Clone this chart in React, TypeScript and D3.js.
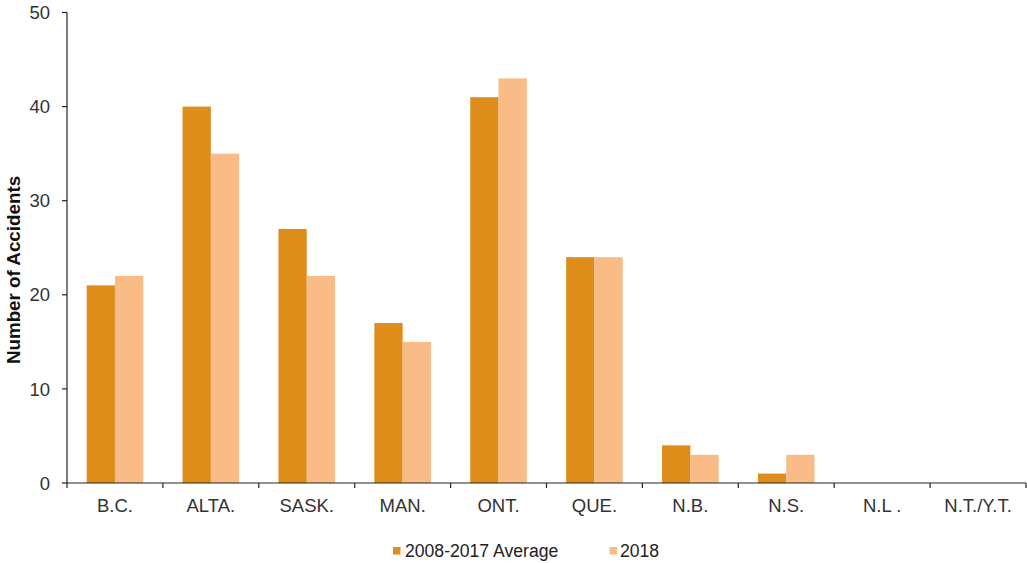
import React from "react";
import * as d3 from "d3";

const categories = ["B.C.", "ALTA.", "SASK.", "MAN.", "ONT.", "QUE.", "N.B.", "N.S.", "N.L .", "N.T./Y.T."];
const seriesNames = ["2008-2017 Average", "2018"];
const avgValues = [21, 40, 27, 17, 41, 24, 4, 1, 0, 0];
const values2018 = [22, 35, 22, 15, 43, 24, 3, 3, 0, 0];
const yTicks = [0, 10, 20, 30, 40, 50];
const colors = ["#DE8C1A", "#F9BC87"];

const W = 1027;
const H = 563;
const left = 67;
const right = 1026;
const top = 12.5;
const bottom = 483;
const FONT = "'Liberation Sans', Arial, sans-serif";

export default function App() {
  const x = d3.scaleBand<string>().domain(categories).range([left, right]).padding(0);
  const bw = x.bandwidth();
  const x1 = d3.scaleBand<string>().domain(seriesNames).range([bw * 0.205, bw * 0.795]).padding(0);
  const y = d3.scaleLinear().domain([0, 50]).range([bottom, top]);
  const seriesData = [avgValues, values2018];
  const boundaries = categories.map((c) => x(c) as number).concat([right]);

  return (
    <svg width={W} height={H} style={{ position: "absolute", left: 0, top: 0, display: "block", background: "#fff" }}>
      <rect x={0} y={0} width={W} height={H} fill="#fff" />
      {seriesData.map((vals, si) =>
        vals.map((v, i) => (
          <rect
            key={`${si}-${i}`}
            x={(x(categories[i]) as number) + (x1(seriesNames[si]) as number)}
            y={y(v)}
            width={x1.bandwidth()}
            height={bottom - y(v)}
            fill={colors[si]}
          />
        ))
      )}
      {/* y axis */}
      <line x1={left} x2={left} y1={top} y2={bottom} stroke="#222" strokeWidth={1.2} />
      {yTicks.map((t) => (
        <g key={t}>
          <line x1={left - 5} x2={left} y1={y(t)} y2={y(t)} stroke="#222" strokeWidth={1.2} />
          <text x={50} y={y(t)} dy="0.36em" textAnchor="end" fontFamily={FONT} fontSize={18.5} fill="#333">
            {t}
          </text>
        </g>
      ))}
      {/* x axis */}
      <line x1={left} x2={right} y1={bottom} y2={bottom} stroke="#222" strokeWidth={1.2} />
      {boundaries.map((b, i) => (
        <line key={i} x1={b} x2={b} y1={bottom} y2={bottom + 5} stroke="#222" strokeWidth={1.2} />
      ))}
      {categories.map((c) => (
        <text key={c} x={(x(c) as number) + bw / 2} y={511.5} textAnchor="middle" fontFamily={FONT} fontSize={18.5} fill="#333">
          {c}
        </text>
      ))}
      {/* y title */}
      <text
        transform={`translate(20,270) rotate(-90)`}
        textAnchor="middle"
        fontFamily={FONT}
        fontSize={18.8}
        fontWeight="bold"
        fill="#111"
      >
        Number of Accidents
      </text>
      {/* legend */}
      <rect x={393} y={547} width={7.5} height={7.5} fill={colors[0]} />
      <text x={405} y={557} fontFamily={FONT} fontSize={17.6} fill="#222">
        {seriesNames[0]}
      </text>
      <rect x={609.5} y={547} width={7.5} height={7.5} fill={colors[1]} />
      <text x={620} y={557} fontFamily={FONT} fontSize={17.6} fill="#222">
        {seriesNames[1]}
      </text>
    </svg>
  );
}
